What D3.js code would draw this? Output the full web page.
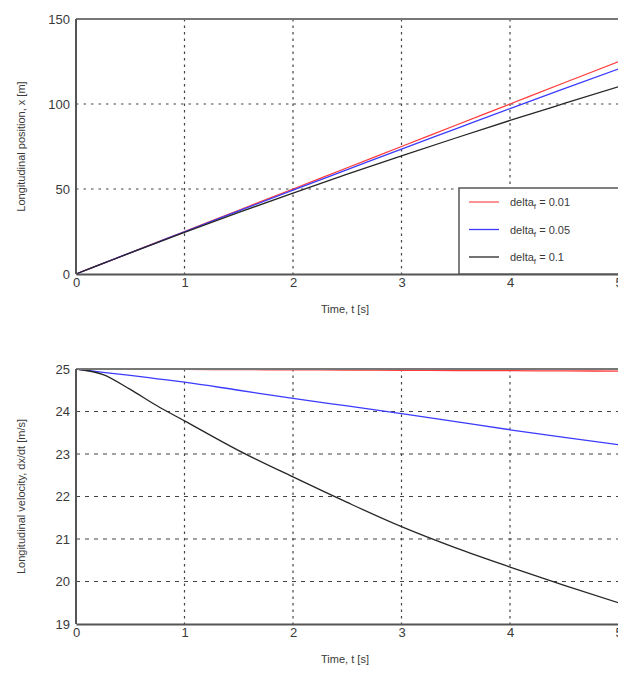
<!DOCTYPE html>
<html>
<head>
<meta charset="utf-8">
<script src="https://cdn.jsdelivr.net/npm/d3@7"></script>
<style>
  body { margin: 0; background: #fff; }
  svg { display: block; font-family: "Liberation Sans", Arial, sans-serif; }
  .tick text { fill: #3a3a3a; font-size: 13px; }
  .lab { fill: #3a3a3a; font-size: 11px; }
</style>
</head>
<body>
<svg id="chart" width="618" height="675"></svg>
<script>
// time samples (s)
const times = [0, 0.25, 0.5, 0.75, 1, 1.5, 2, 2.5, 3, 3.5, 4, 4.5, 5];

// longitudinal position x [m]
const posSmall = [0, 6.25, 12.5, 18.75, 25, 37.5, 50, 62.5, 75, 87.5, 100, 112.5, 124.9];
const posMid   = [0, 6.25, 12.45, 18.65, 24.85, 37.1, 49.3, 61.4, 73.5, 85.4, 97.3, 109, 120.6];
const posLarge = [0, 6.2, 12.4, 18.5, 24.5, 36.2, 47.6, 58.7, 69.5, 80, 90.3, 100.3, 110.2];

// longitudinal velocity dx/dt [m/s]
const velSmall = [25, 25, 24.995, 24.99, 24.99, 24.985, 24.98, 24.975, 24.97, 24.965, 24.96, 24.955, 24.95];
const velMid   = [25, 24.92, 24.85, 24.77, 24.69, 24.5, 24.31, 24.13, 23.95, 23.76, 23.57, 23.39, 23.22];
const velLarge = [25, 24.87, 24.52, 24.13, 23.78, 23.08, 22.46, 21.86, 21.29, 20.79, 20.34, 19.91, 19.5];

const xTicks = [0, 1, 2, 3, 4, 5];
const legendLabels = ["0.01", "0.05", "0.1"];
const colors = ["#ff3b3b", "#3b3bff", "#262626"];

const svg = d3.select("#chart");

function panel(top, bottom, yDomain, yTicks, series, yLabel, hDash, vDash, showLegend) {
  const x = d3.scaleLinear().domain([0, 5]).range([76, 618.5]);
  const y = d3.scaleLinear().domain(yDomain).range([bottom, top]);
  const g = svg.append("g");

  // grid
  g.selectAll(".hg").data(yTicks.slice(1, -1)).enter().append("line")
    .attr("x1", 76).attr("x2", 618)
    .attr("y1", (d) => y(d)).attr("y2", (d) => y(d))
    .attr("stroke", "#444").attr("stroke-width", 1.2)
    .attr("stroke-dasharray", hDash);
  g.selectAll(".vg").data(xTicks.slice(1, -1)).enter().append("line")
    .attr("x1", (d) => x(d)).attr("x2", (d) => x(d))
    .attr("y1", top).attr("y2", bottom)
    .attr("stroke", "#444").attr("stroke-width", 1.2)
    .attr("stroke-dasharray", vDash);

  // curves
  const line = d3.line().x((d, i) => x(times[i])).y((d) => y(d)).curve(d3.curveMonotoneX);
  series.forEach((s, i) => {
    g.append("path").datum(s)
      .attr("fill", "none")
      .attr("stroke", colors[i])
      .attr("stroke-width", 1.3)
      .attr("d", line);
  });

  // frame
  g.append("line").attr("x1", 76).attr("x2", 618).attr("y1", top).attr("y2", top)
    .attr("stroke", "#777").attr("stroke-width", 2);
  g.append("line").attr("x1", 76).attr("x2", 76).attr("y1", top).attr("y2", bottom)
    .attr("stroke", "#555").attr("stroke-width", 2);

  // axes
  const xAxis = g.append("g").attr("transform", `translate(0,${bottom})`)
    .call(d3.axisBottom(x).tickValues(xTicks).tickFormat(d3.format("d")).tickSize(0).tickPadding(4));
  xAxis.select(".domain").attr("stroke", "#555").attr("stroke-width", 2.2);

  const yAxis = g.append("g").attr("transform", "translate(76,0)")
    .call(d3.axisLeft(y).tickValues(yTicks).tickFormat(d3.format("d")).tickSize(0).tickPadding(6));
  yAxis.select(".domain").remove();

  g.append("text").attr("class", "lab")
    .attr("x", 345).attr("y", bottom + 39)
    .attr("text-anchor", "middle").text("Time, t [s]");

  g.append("text").attr("class", "lab")
    .attr("transform", `translate(25,${(top + bottom) / 2}) rotate(-90)`)
    .attr("text-anchor", "middle").text(yLabel);

  if (showLegend) {
    const lg = g.append("g");
    lg.append("rect").attr("x", 459).attr("y", 188).attr("width", 170).attr("height", bottom - 188)
      .attr("fill", "#fff").attr("stroke", "#555").attr("stroke-width", 1.5);
    legendLabels.forEach((lab, i) => {
      const yy = 202 + i * 27.5;
      lg.append("line").attr("x1", 469).attr("x2", 499).attr("y1", yy).attr("y2", yy)
        .attr("stroke", colors[i]).attr("stroke-width", i === 0 ? 2 : 1.3)
        .attr("opacity", i === 0 ? 0.55 : 1);
      const t = lg.append("text").attr("class", "lab").attr("x", 510).attr("y", yy + 4);
      t.append("tspan").text("delta");
      t.append("tspan").attr("dy", 3).attr("font-size", 8).text("f");
      t.append("tspan").attr("dy", -3).text(" = " + lab);
    });
  }
}

panel(19, 274, [0, 150], [0, 50, 100, 150], [posSmall, posMid, posLarge],
  "Longitudinal position, x [m]", "2.5,5", "2.5,4", true);
panel(369, 624, [19, 25], [19, 20, 21, 22, 23, 24, 25], [velSmall, velMid, velLarge],
  "Longitudinal velocity, dx/dt [m/s]", "4,5", "2.5,4", false);
</script>
</body>
</html>
